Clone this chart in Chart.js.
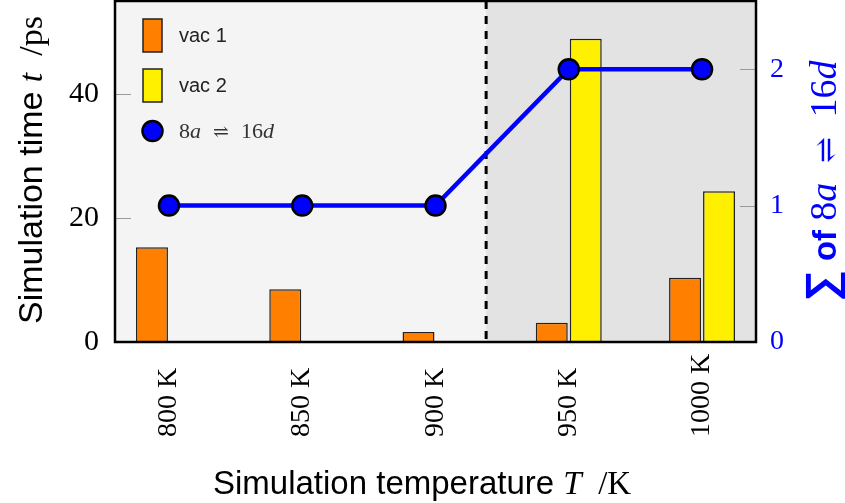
<!DOCTYPE html>
<html>
<head>
<meta charset="utf-8">
<script src="https://cdn.jsdelivr.net/npm/chart.js@4/dist/chart.umd.min.js"></script>
<style>
    html, body { margin: 0; padding: 0; background: #fff; }
</style>
</head>
<body>
<canvas id="chart" width="845" height="503"></canvas>
<script>
/* data */
const temperatures = [800, 850, 900, 950, 1000];
const tempLabels = ['800 K', '850 K', '900 K', '950 K', '1000 K'];
const vac1Times = [15.3, 8.5, 1.6, 3.1, 10.35];
const vac2Times = [null, null, null, 48.9, 24.3];
const exchangeCounts = [1, 1, 1, 2, 2];
const timeTicks = [0, 20, 40];
const countTicks = [0, 1, 2];
const splitTemp = 919; // where the dashed divider sits

const SANS = '"Liberation Sans", Arial, sans-serif';
const SERIF = '"Liberation Serif", "Times New Roman", serif';
const BLUE = '#0000ff';

function richWidth(ctx, parts) {
    let w = 0;
    parts.forEach(p => { ctx.font = p[1]; w += ctx.measureText(p[0]).width; });
    return w;
}

function drawRich(ctx, parts, x, y) {
    parts.forEach(p => {
        ctx.font = p[1];
        ctx.fillText(p[0], x, y);
        x += ctx.measureText(p[0]).width;
    });
}

function line(ctx, x1, y1, x2, y2) {
    ctx.beginPath();
    ctx.moveTo(x1, y1);
    ctx.lineTo(x2, y2);
    ctx.stroke();
}

// keep chart.js from adding label overhang padding round the plot
function noOverhang(s) {
    s.paddingTop = 0;
    s.paddingBottom = 0;
    s.paddingLeft = 0;
    s.paddingRight = 0;
}

const decor = {
    id: 'decor',
    beforeDatasetsDraw(chart) {
        const { ctx, chartArea: a, scales } = chart;
        const xs = scales.x.getPixelForValue(splitTemp);
        ctx.save();
        ctx.fillStyle = '#f4f4f4';
        ctx.fillRect(a.left, a.top, xs - a.left, a.bottom - a.top);
        ctx.fillStyle = '#e3e3e3';
        ctx.fillRect(xs, a.top, a.right - xs, a.bottom - a.top);

        // short inward tick marks
        ctx.strokeStyle = '#9a9a9a';
        ctx.lineWidth = 1;
        scales.y.ticks.forEach(t => {
            if (t.value === 0) return;
            const y = Math.round(scales.y.getPixelForValue(t.value)) + 0.5;
            line(ctx, a.left, y, a.left + 16, y);
        });
        scales.y2.ticks.forEach(t => {
            if (t.value === 0) return;
            const y = Math.round(scales.y2.getPixelForValue(t.value)) + 0.5;
            line(ctx, a.right - 16, y, a.right, y);
        });

        ctx.strokeStyle = '#000';
        ctx.lineWidth = 3;
        ctx.setLineDash([8, 7]);
        line(ctx, xs, a.top, xs, a.bottom);
        ctx.restore();
    },
    afterDatasetsDraw(chart) {
        const { ctx, chartArea: a, scales } = chart;
        ctx.save();

        // frame
        ctx.strokeStyle = '#000';
        ctx.lineWidth = 2.5;
        ctx.strokeRect(a.left, a.top, a.right - a.left, a.bottom - a.top);

        // legend
        const ds = chart.data.datasets;
        const lx = a.left + 28;
        ctx.lineWidth = 1.5;
        ctx.strokeStyle = '#222';
        [ds[0], ds[1]].forEach((d, i) => {
            const ty = 19 + i * 50;
            ctx.fillStyle = d.backgroundColor;
            ctx.fillRect(lx, ty, 19, 33);
            ctx.strokeRect(lx, ty, 19, 33);
            ctx.fillStyle = '#222';
            ctx.font = '20px ' + SANS;
            ctx.textBaseline = 'middle';
            ctx.fillText(d.label, lx + 36, ty + 17);
        });
        ctx.beginPath();
        ctx.arc(lx + 9.5, 131, 10, 0, Math.PI * 2);
        ctx.fillStyle = BLUE;
        ctx.fill();
        ctx.lineWidth = 2.5;
        ctx.strokeStyle = '#000';
        ctx.stroke();
        ctx.fillStyle = '#333';
        ctx.textBaseline = 'alphabetic';
        drawRich(ctx, [
            ['8', '22px ' + SERIF],
            ['a', 'italic 22px ' + SERIF],
            ['  \u21CC  ', '19px "DejaVu Serif"'],
            ['16', '22px ' + SERIF],
            ['d', 'italic 22px ' + SERIF]
        ], lx + 36, 138);

        // x tick labels, rotated, anchored at the bottom
        ctx.fillStyle = '#000';
        ctx.font = '28px ' + SERIF;
        ctx.textAlign = 'left';
        temperatures.forEach((t, i) => {
            const px = scales.x.getPixelForValue(t);
            ctx.save();
            ctx.translate(px + 7, 437);
            ctx.rotate(-Math.PI / 2);
            ctx.fillText(tempLabels[i], 0, 0);
            ctx.restore();
        });

        // x title
        const xParts = [
            ['Simulation temperature ', '33px ' + SANS],
            ['T', 'italic 33px ' + SERIF],
            ['  /K', '33px ' + SERIF]
        ];
        drawRich(ctx, xParts, 213, 494);

        // left title
        const lParts = [
            ['Simulation time ', '34px ' + SANS],
            ['t', 'italic 34px ' + SERIF],
            ['  /ps', '34px ' + SERIF]
        ];
        const lw = richWidth(ctx, lParts);
        ctx.save();
        ctx.translate(42, 170 + lw / 2);
        ctx.rotate(-Math.PI / 2);
        drawRich(ctx, lParts, 0, 0);
        ctx.restore();

        // right title
        const rParts = [
            ['\u2211', 'bold 44px ' + SANS],
            [' of ', 'bold 33px ' + SANS],
            ['8', '38px ' + SERIF],
            ['a', 'italic 38px ' + SERIF],
            ['  \u21CC  ', '31px "DejaVu Serif"'],
            ['16', '38px ' + SERIF],
            ['d', 'italic 38px ' + SERIF]
        ];
        const rw = richWidth(ctx, rParts);
        ctx.fillStyle = BLUE;
        ctx.save();
        ctx.translate(836, 181 + rw / 2);
        ctx.rotate(-Math.PI / 2);
        drawRich(ctx, rParts, 0, 0);
        ctx.restore();

        ctx.restore();
    }
};

const ctx = document.getElementById('chart').getContext('2d');
new Chart(ctx, {
    type: 'bar',
    data: {
        datasets: [
            {
                label: 'vac 1',
                data: temperatures.map((t, i) => ({ x: t, y: vac1Times[i] })),
                backgroundColor: '#ff8000',
                borderColor: '#222',
                borderWidth: 1.5,
                categoryPercentage: 0.51,
                barPercentage: 0.94,
                order: 1
            },
            {
                label: 'vac 2',
                data: temperatures.map((t, i) => ({ x: t, y: vac2Times[i] })),
                backgroundColor: '#fff000',
                borderColor: '#222',
                borderWidth: 1.5,
                categoryPercentage: 0.51,
                barPercentage: 0.94,
                order: 1
            },
            {
                type: 'line',
                label: '8a \u21CC 16d',
                data: temperatures.map((t, i) => ({ x: t, y: exchangeCounts[i] })),
                yAxisID: 'y2',
                borderColor: BLUE,
                borderWidth: 4.5,
                tension: 0,
                pointRadius: 10,
                pointBackgroundColor: BLUE,
                pointBorderColor: '#000',
                pointBorderWidth: 2.5,
                clip: false,
                order: 0
            }
        ]
    },
    options: {
        responsive: false,
        animation: false,
        layout: { autoPadding: false, padding: { top: 1 } },
        plugins: {
            legend: { display: false },
            tooltip: { enabled: false }
        },
        scales: {
            x: {
                type: 'linear',
                offset: false,
                min: 779.75,
                max: 1020.25,
                grid: { display: false, drawTicks: false, offset: false },
                border: { display: false },
                ticks: { display: false },
                afterFit: s => { s.height = 161; noOverhang(s); }
            },
            y: {
                position: 'left',
                min: 0,
                max: 55,
                grid: { display: false, drawTicks: false },
                border: { display: false },
                afterBuildTicks: s => { s.ticks = timeTicks.map(v => ({ value: v })); },
                ticks: {
                    color: '#000',
                    padding: 16,
                    font: { family: SERIF, size: 30 }
                },
                afterFit: s => { s.width = 115; noOverhang(s); }
            },
            y2: {
                position: 'right',
                min: 0,
                max: 2.5,
                grid: { display: false, drawTicks: false },
                border: { display: false },
                afterBuildTicks: s => { s.ticks = countTicks.map(v => ({ value: v })); },
                ticks: {
                    color: BLUE,
                    padding: 14,
                    font: { family: SERIF, size: 28 }
                },
                afterFit: s => { s.width = 89; noOverhang(s); }
            }
        }
    },
    plugins: [decor]
});
</script>
</body>
</html>
